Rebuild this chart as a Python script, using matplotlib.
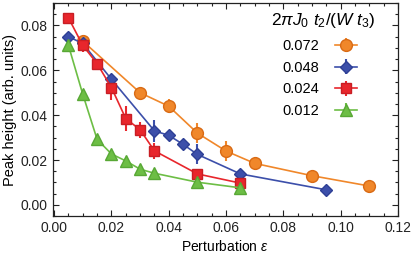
import matplotlib
matplotlib.use("Agg")
import matplotlib.pyplot as plt
from matplotlib.ticker import MultipleLocator

plt.rcParams['font.family'] = ['Liberation Sans', 'DejaVu Sans']
plt.rcParams['mathtext.fontset'] = 'custom'
plt.rcParams['mathtext.rm'] = 'Liberation Sans'
plt.rcParams['mathtext.it'] = 'Liberation Sans:italic'

# data
x_072 = [0.01, 0.03, 0.04, 0.05, 0.06, 0.07, 0.09, 0.11]
y_072 = [0.073, 0.050, 0.044, 0.032, 0.024, 0.0185, 0.013, 0.0084]
e_072 = [0.001, 0.001, 0.003, 0.0045, 0.0045, 0.0015, 0.001, 0.001]

x_048 = [0.005, 0.01, 0.02, 0.035, 0.04, 0.045, 0.05, 0.065, 0.095]
y_048 = [0.075, 0.072, 0.056, 0.033, 0.031, 0.027, 0.0225, 0.0138, 0.0067]
e_048 = [0.001, 0.001, 0.002, 0.005, 0.002, 0.002, 0.0045, 0.001, 0.001]

x_024 = [0.005, 0.01, 0.015, 0.02, 0.025, 0.03, 0.035, 0.05, 0.065]
y_024 = [0.0834, 0.0711, 0.063, 0.0523, 0.0385, 0.0335, 0.0241, 0.0138, 0.0097]
e_024 = [0.001, 0.003, 0.001, 0.0055, 0.0055, 0.0035, 0.0035, 0.002, 0.001]

x_012 = [0.005, 0.01, 0.015, 0.02, 0.025, 0.03, 0.035, 0.05, 0.065]
y_012 = [0.0711, 0.0493, 0.0292, 0.0227, 0.0196, 0.0159, 0.0141, 0.0101, 0.0076]
e_012 = [0.001, 0.001, 0.001, 0.0015, 0.0015, 0.0015, 0.001, 0.001, 0.001]

labels = ['0.072', '0.048', '0.024', '0.012']
xticks = [0.0, 0.02, 0.04, 0.06, 0.08, 0.10, 0.12]
yticks = [0.0, 0.02, 0.04, 0.06, 0.08]

fig = plt.figure(figsize=(4.15, 2.56), dpi=100)
ax = fig.add_axes([0.127, 0.156, 0.832, 0.832])

series = [
    (x_072, y_072, e_072, 'o', '#F0872A', '#D96A14', 8.5),
    (x_048, y_048, e_048, 'D', '#3C4FAA', '#2E3F95', 6.2),
    (x_024, y_024, e_024, 's', '#E8262C', '#C81E24', 7.5),
    (x_012, y_012, e_012, '^', '#6DBE45', '#58A835', 9.0),
]
for (xs, ys, es, m, c, ec, ms), lab in zip(series, labels):
    ax.errorbar(xs, ys, yerr=es, fmt='-' + m, color=c, mfc=c, mec=ec, mew=1.0,
                ms=ms, lw=1.2, elinewidth=1.5, capsize=0, label=lab)

ax.set_xlim(-0.0005, 0.12)
ax.set_ylim(-0.005, 0.09)
ax.xaxis.set_minor_locator(MultipleLocator(0.005))
ax.yaxis.set_minor_locator(MultipleLocator(0.005))
ax.set_xticks(xticks)
ax.set_xticklabels([f'{v:.2f}' for v in xticks])
ax.set_yticks(yticks)
ax.set_yticklabels([f'{v:.2f}' for v in yticks])
ax.tick_params(which='both', direction='in', top=True, right=True, labelsize=10, width=0.8, colors='#222222')
ax.tick_params(which='major', length=4)
ax.tick_params(which='minor', length=2)
for s in ax.spines.values():
    s.set_linewidth(0.9)
    s.set_color('#222222')

ax.set_xlabel(r'Perturbation $\mathit{\varepsilon}$', fontsize=10, labelpad=3)
ax.set_ylabel('Peak height (arb. units)', fontsize=10.5, labelpad=3)

leg = ax.legend(loc='upper right', frameon=False, markerfirst=False, fontsize=10.5,
                handlelength=1.5, labelspacing=0.52, borderaxespad=0, borderpad=0,
                handletextpad=1.1, bbox_to_anchor=(0.881, 0.83))
ax.text(0.936, 0.92, r'$2\pi J_0\ t_2/(W\ t_3)$', transform=ax.transAxes,
        ha='right', va='center', fontsize=12.5)

fig.savefig('out.png', dpi=100)
